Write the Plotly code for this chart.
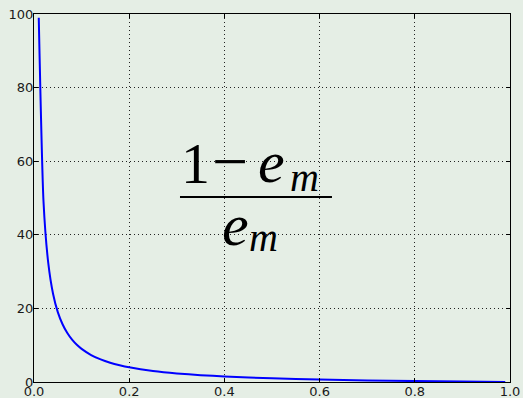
import plotly.graph_objects as go

# error rate e_m and the corresponding weight (1 - e_m) / e_m
error_rate = [0.01, 0.02, 0.03, 0.04, 0.05, 0.06, 0.07, 0.08, 0.09, 0.10,
              0.12, 0.14, 0.16, 0.18, 0.20, 0.25, 0.30, 0.35, 0.40, 0.50,
              0.60, 0.70, 0.80, 0.90, 0.99]
weight = [99.0, 49.0, 32.3, 24.0, 19.0, 15.7, 13.3, 11.5, 10.1, 9.0,
          7.33, 6.14, 5.25, 4.56, 4.0, 3.0, 2.33, 1.86, 1.5, 1.0,
          0.67, 0.43, 0.25, 0.11, 0.01]

x_ticks = [0.0, 0.2, 0.4, 0.6, 0.8, 1.0]
y_ticks = [0, 20, 40, 60, 80, 100]

bg = "#e5eee5"

fig = go.Figure()
fig.add_trace(go.Scatter(
    x=error_rate, y=weight, mode="lines",
    line=dict(color="#0000ff", width=2, shape="spline", smoothing=0.6),
    showlegend=False, hoverinfo="skip",
))

axis_common = dict(
    showline=True, linecolor="black", linewidth=1, mirror="ticks",
    ticks="inside", ticklen=4, tickwidth=1, tickcolor="black",
    showgrid=True, gridcolor="#222222", gridwidth=1, griddash="1px,3px",
    zeroline=False, automargin=False,
    tickfont=dict(family="DejaVu Sans", size=13, color="#1a1a1a"),
)

fig.update_xaxes(range=[0, 1], tickvals=x_ticks, ticklabelstandoff=-3,
                 ticktext=[f"{v:.1f}" for v in x_ticks], **axis_common)
fig.update_yaxes(range=[0, 100], tickvals=y_ticks, ticklabelstandoff=-3,
                 ticktext=[str(v) for v in y_ticks], **axis_common)

# the fraction (1 - e_m) / e_m, set piece by piece in data coordinates
serif = "Liberation Serif"
pieces = [
    # text, x, y, size
    ("1", 0.3393, 59.5, 58),
    ("\u2212", 0.4128, 59.9, 64),
    ("<i>e</i>", 0.4990, 59.7, 60),
    ("<i>m</i>", 0.5690, 55.5, 40),
    ("<i>e</i>", 0.4223, 42.6, 60),
    ("<i>m</i>", 0.4821, 39.2, 40),
]
for text, px, py, size in pieces:
    fig.add_annotation(x=px, y=py, xref="x", yref="y",
                       xanchor="center", yanchor="middle", showarrow=False,
                       font=dict(family=serif, size=size, color="black"),
                       text=text)
fig.add_shape(type="line", x0=0.3067, x1=0.626, y0=50.27, y1=50.27,
              xref="x", yref="y", line=dict(color="black", width=2))

fig.update_layout(
    width=523, height=398,
    margin=dict(l=34, r=13, t=14, b=16),
    paper_bgcolor=bg, plot_bgcolor=bg,
)

fig.write_html("out.html")
